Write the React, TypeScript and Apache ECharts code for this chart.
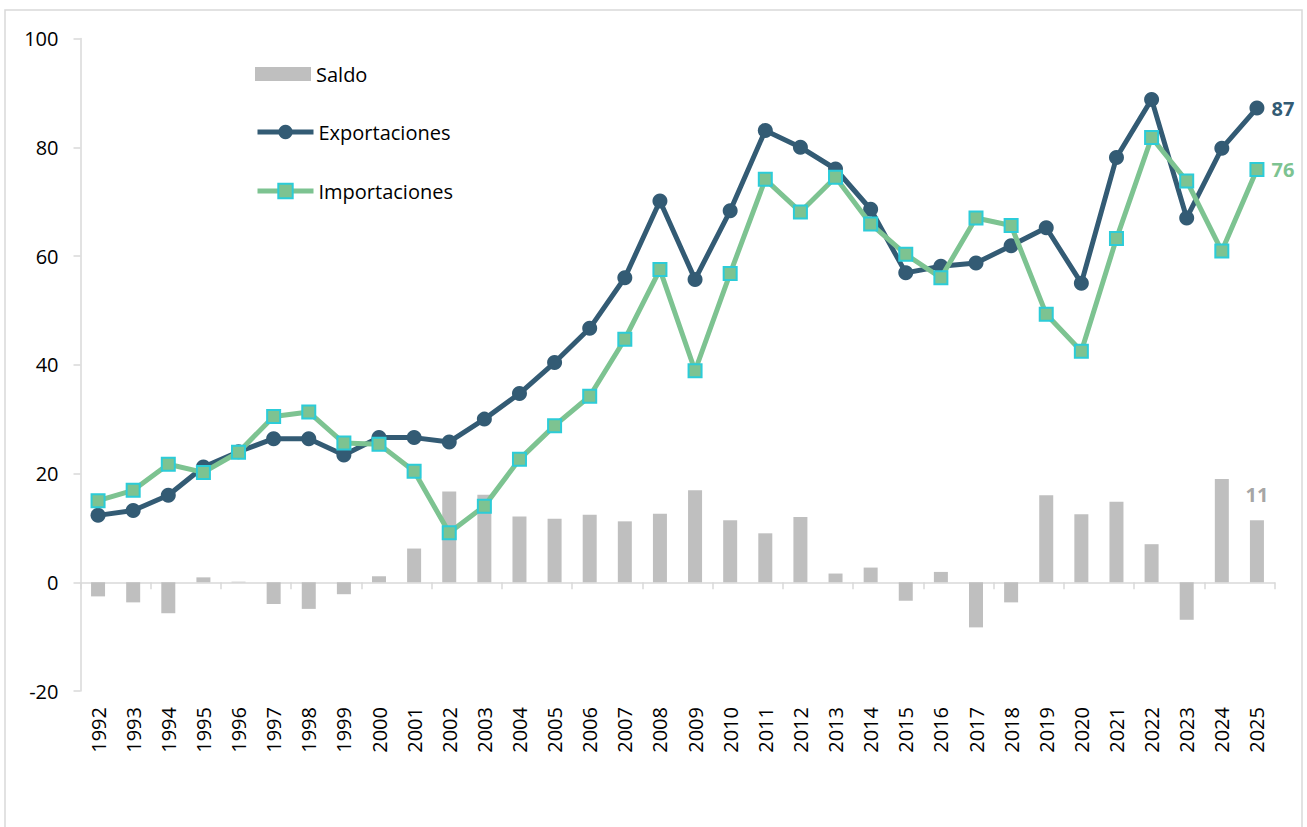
import React, { useEffect, useRef } from "react";
import * as echarts from "echarts";

const years = [
  "1992", "1993", "1994", "1995", "1996", "1997", "1998", "1999", "2000", "2001",
  "2002", "2003", "2004", "2005", "2006", "2007", "2008", "2009", "2010", "2011",
  "2012", "2013", "2014", "2015", "2016", "2017", "2018", "2019", "2020", "2021",
  "2022", "2023", "2024", "2025",
];

const exportaciones = [
  12.3, 13.2, 16.0, 21.2, 24.0, 26.4, 26.4, 23.4, 26.6, 26.6,
  25.8, 30.0, 34.7, 40.4, 46.7, 56.0, 70.1, 55.7, 68.3, 83.1,
  80.0, 76.0, 68.6, 56.9, 58.1, 58.7, 61.9, 65.2, 55.0, 78.1,
  88.8, 67.0, 79.8, 87.2,
];

const importaciones = [
  15.0, 16.9, 21.7, 20.2, 23.9, 30.5, 31.3, 25.6, 25.4, 20.4,
  9.1, 14.0, 22.6, 28.8, 34.2, 44.7, 57.5, 38.9, 56.8, 74.1,
  68.1, 74.5, 65.9, 60.3, 56.0, 67.0, 65.6, 49.3, 42.5, 63.2,
  81.8, 73.8, 60.9, 75.9,
];

const saldo = [
  -2.6, -3.7, -5.7, 0.9, 0.1, -4.0, -4.9, -2.2, 1.1, 6.2,
  16.7, 16.1, 12.1, 11.7, 12.4, 11.2, 12.6, 16.9, 11.4, 9.0,
  12.0, 1.6, 2.7, -3.4, 1.9, -8.3, -3.7, 16.0, 12.5, 14.8,
  7.0, -6.9, 19.0, 11.4,
];

const yTicks = { min: -20, max: 100, interval: 20 };

const FONT = "'Open Sans', 'Noto Sans', sans-serif";
const C_EXP = "#335B74";
const C_IMP = "#7DC391";
const C_IMP_BORDER = "#2CCCD8";
const C_BAR = "#BFBFBF";
const C_AXIS = "#D9D9D9";

function lastLabelled(values: number[], label: any) {
  return values.map((v, i) =>
    i === values.length - 1 ? { value: v, label } : v
  );
}

export default function App() {
  const ref = useRef<HTMLDivElement>(null);

  useEffect(() => {
    if (!ref.current) return;
    const chart = echarts.init(ref.current, undefined, { renderer: "svg" });
    const legendText = { fontSize: 20, fontFamily: FONT, color: "#000" };
    chart.setOption({
      animation: false,
      backgroundColor: "#ffffff",
      textStyle: { fontFamily: FONT },
      graphic: [
        {
          type: "rect",
          shape: { x: 5, y: 10, width: 1297, height: 840 },
          style: { fill: "none", stroke: C_AXIS, lineWidth: 1.5 },
          silent: true,
          z: -1,
        },
      ],
      legend: [
        {
          orient: "vertical",
          left: 255,
          top: 64,
          padding: 0,
          itemWidth: 56,
          itemHeight: 14,
          textStyle: legendText,
          data: [{ name: "Saldo", icon: "rect" }],
        },
        {
          orient: "vertical",
          left: 255,
          top: 122,
          padding: 0,
          itemWidth: 56,
          itemHeight: 18,
          itemGap: 39,
          lineStyle: { width: 5 },
          textStyle: legendText,
          data: [{ name: "Exportaciones" }, { name: "Importaciones" }],
        },
      ],
      grid: { left: 80.5, right: 32.5, top: 38.5, bottom: 136, containLabel: false },
      xAxis: [
        {
          type: "category",
          data: years,
          position: "bottom",
          axisLine: { show: true, onZero: true, lineStyle: { color: C_AXIS, width: 1.5 } },
          axisTick: { show: true, length: 7, lineStyle: { color: C_AXIS, width: 1.5 } },
          axisLabel: { show: false },
        },
        {
          type: "category",
          data: years,
          position: "bottom",
          axisLine: { show: false, onZero: false },
          axisTick: { show: false },
          axisLabel: {
            show: true,
            rotate: 90,
            margin: 16,
            fontSize: 20,
            fontFamily: FONT,
            color: "#000",
          },
        },
      ],
      yAxis: {
        type: "value",
        min: yTicks.min,
        max: yTicks.max,
        interval: yTicks.interval,
        splitLine: { show: false },
        axisLine: { show: true, lineStyle: { color: C_AXIS, width: 1.5 } },
        axisTick: { show: true, length: 7, lineStyle: { color: C_AXIS, width: 1.5 } },
        axisLabel: { margin: 22, fontSize: 20, fontFamily: FONT, color: "#000" },
      },
      series: [
        {
          name: "Saldo",
          type: "bar",
          xAxisIndex: 0,
          barWidth: 14,
          itemStyle: { color: C_BAR },
          data: lastLabelled(saldo, {
            show: true,
            position: "top",
            distance: 16,
            formatter: (p: any) => Math.round(p.value).toString(),
            fontSize: 20,
            fontWeight: "bold",
            fontFamily: FONT,
            color: "#A6A6A6",
          }),
          z: 1,
        },
        {
          name: "Exportaciones",
          type: "line",
          xAxisIndex: 0,
          symbol: "circle",
          symbolSize: 15,
          lineStyle: { color: C_EXP, width: 5 },
          itemStyle: { color: C_EXP },
          data: lastLabelled(exportaciones, {
            show: true,
            position: "right",
            distance: 7,
            formatter: (p: any) => Math.round(p.value).toString(),
            fontSize: 20,
            fontWeight: "bold",
            fontFamily: FONT,
            color: C_EXP,
          }),
          z: 3,
        },
        {
          name: "Importaciones",
          type: "line",
          xAxisIndex: 0,
          symbol: "rect",
          symbolSize: 13,
          lineStyle: { color: C_IMP, width: 5 },
          itemStyle: { color: C_IMP, borderColor: C_IMP_BORDER, borderWidth: 2 },
          data: lastLabelled(importaciones, {
            show: true,
            position: "right",
            distance: 7,
            formatter: (p: any) => Math.round(p.value).toString(),
            fontSize: 20,
            fontWeight: "bold",
            fontFamily: FONT,
            color: C_IMP,
          }),
          z: 4,
        },
      ],
    });
    return () => chart.dispose();
  }, []);

  return (
    <div
      ref={ref}
      style={{ position: "fixed", left: 0, top: 0, width: 1307, height: 827, background: "#fff" }}
    />
  );
}
